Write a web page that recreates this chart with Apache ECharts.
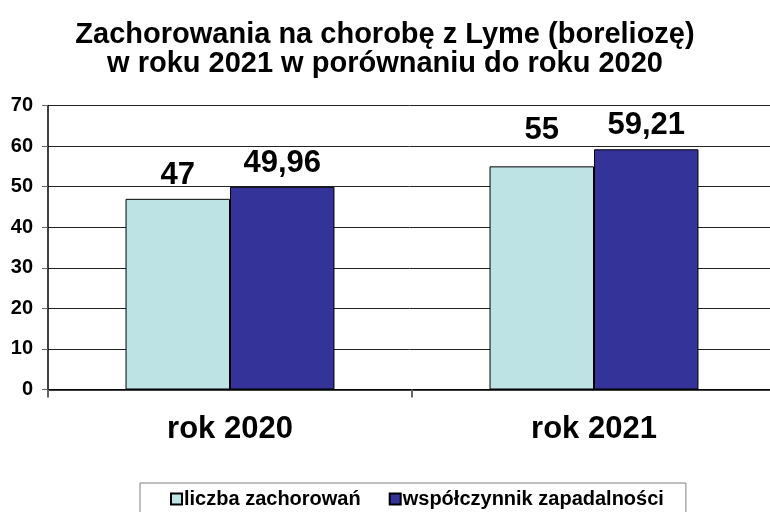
<!DOCTYPE html>
<html>
<head>
<meta charset="utf-8">
<script src="https://cdn.jsdelivr.net/npm/echarts@6/dist/echarts.min.js"></script>
<style>
  html, body { margin: 0; padding: 0; background: #fff; }
  #chart { width: 770px; height: 512px; }
</style>
</head>
<body>
<div id="chart"></div>
<script>
// dane
const categories = ['rok 2020', 'rok 2021']
const cases = [47, 55]
const incidence = [49.96, 59.21]
const seriesNames = ['liczba zachorowań', 'współczynnik zapadalności']
const titleText = 'Zachorowania na chorobę z Lyme (boreliozę)\nw roku 2021 w porównaniu do roku 2020'

const font = '"Liberation Sans", Arial, sans-serif'

let myChart = echarts.init(document.getElementById('chart'))

// etykieta z przecinkiem dziesiętnym
function plLabel (p) {
  return String(p.value).replace('.', ',')
}

// w oryginale etykieta "55" jest podniesiona wyżej niż reszta
const labelDist = [[8, 20], [8, 8]]

function makeData (values, s) {
  return values.map((v, i) => ({ value: v, label: { distance: labelDist[s][i] } }))
}

let labelStyle = {
  show: true,
  position: 'top',
  distance: 8,
  formatter: plLabel,
  fontFamily: font,
  fontSize: 31,
  fontWeight: 'bold',
  color: '#000'
}

let option = {
  animation: false,
  backgroundColor: '#fff',
  title: {
    text: titleText,
    left: 'center',
    top: 15,
    textStyle: {
      fontFamily: font,
      fontSize: 29,
      fontWeight: 'bold',
      color: '#000',
      lineHeight: 29
    }
  },
  legend: {
    data: seriesNames,
    left: 140,
    top: 483,
    width: 545,
    padding: [6, 22, 12, 30],
    borderColor: '#808080',
    borderWidth: 1,
    icon: 'rect',
    itemWidth: 11,
    itemHeight: 11,
    itemGap: 28,
    textStyle: {
      fontFamily: font,
      fontSize: 20,
      fontWeight: 'bold',
      color: '#000',
      padding: [0, 0, 0, -3]
    }
  },
  grid: {
    left: 48,
    top: 105.5,
    width: 728,
    height: 284,
    outerBoundsMode: 'none'
  },
  xAxis: {
    type: 'category',
    data: categories,
    axisLine: { lineStyle: { color: '#000', width: 1.5 } },
    axisTick: { show: true, length: 8, lineStyle: { color: '#666', width: 2 } },
    axisLabel: {
      margin: 24,
      fontFamily: font,
      fontSize: 31,
      fontWeight: 'bold',
      color: '#000'
    }
  },
  yAxis: {
    type: 'value',
    min: 0,
    max: 70,
    interval: 10,
    axisLine: { show: true, lineStyle: { color: '#000', width: 1.5 } },
    axisTick: { show: true, length: 6, lineStyle: { color: '#666' } },
    splitLine: { lineStyle: { color: '#222', width: 1 } },
    axisLabel: {
      margin: 15,
      fontFamily: font,
      fontSize: 20,
      fontWeight: 'bold',
      color: '#000'
    }
  },
  series: [
    {
      name: seriesNames[0],
      type: 'bar',
      data: makeData(cases, 0),
      barGap: '0%',
      barCategoryGap: '42.6%',
      itemStyle: { color: '#bde3e5', borderColor: '#000', borderWidth: 1 },
      label: labelStyle
    },
    {
      name: seriesNames[1],
      type: 'bar',
      data: makeData(incidence, 1),
      itemStyle: { color: '#333399', borderColor: '#000', borderWidth: 1 },
      label: labelStyle
    }
  ]
}
myChart.setOption(option)
</script>
</body>
</html>
